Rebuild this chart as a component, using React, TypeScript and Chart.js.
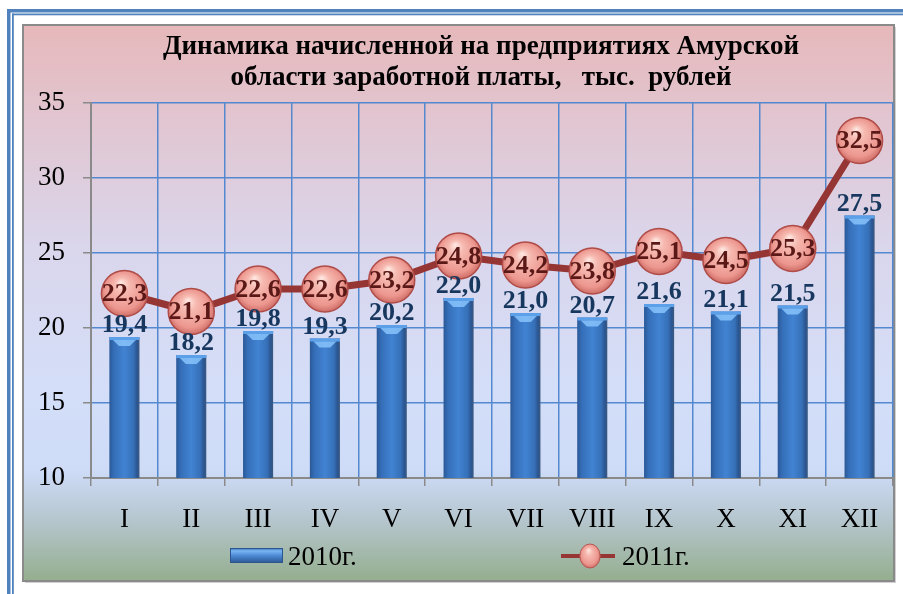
import React, { useEffect, useRef } from 'react';
import { Chart, registerables } from 'chart.js';

Chart.register(...registerables);

const months = ['I', 'II', 'III', 'IV', 'V', 'VI', 'VII', 'VIII', 'IX', 'X', 'XI', 'XII'];
const values2010 = [19.4, 18.2, 19.8, 19.3, 20.2, 22.0, 21.0, 20.7, 21.6, 21.1, 21.5, 27.5];
const values2011 = [22.3, 21.1, 22.6, 22.6, 23.2, 24.8, 24.2, 23.8, 25.1, 24.5, 25.3, 32.5];
const seriesNames = ['2010г.', '2011г.'];
const titleLines = ['Динамика начисленной на предприятиях Амурской', 'области заработной платы,   тыс.  рублей'];
const yMin = 10;
const yMax = 35;
const yStep = 5;

const SERIF = "'Liberation Serif', 'Times New Roman', serif";
const BAR_PCT = 0.45;
const PT_R = 23;

const fmt = (v: number) => v.toFixed(1).replace('.', ',');

function barGradient(ctx: CanvasRenderingContext2D, left: number, right: number) {
  const g = ctx.createLinearGradient(left, 0, right, 0);
  g.addColorStop(0, '#2a5896');
  g.addColorStop(0.15, '#356eb8');
  g.addColorStop(0.5, '#4183d2');
  g.addColorStop(0.8, '#3670b8');
  g.addColorStop(0.92, '#2b5590');
  g.addColorStop(1, '#3d5a80');
  return g;
}

function ballGradient(ctx: CanvasRenderingContext2D, x: number, y: number, r: number) {
  const g = ctx.createRadialGradient(x - r * 0.15, y - r * 0.5, 0, x, y, r * 1.1);
  g.addColorStop(0, '#fee9e3');
  g.addColorStop(0.3, '#f6b9b0');
  g.addColorStop(0.75, '#ec978f');
  g.addColorStop(1, '#c4605a');
  return g;
}

const framePlugin = {
  id: 'frame',
  beforeDraw(chart: any) {
    const { ctx, width, height } = chart;
    ctx.save();
    ctx.fillStyle = '#ffffff';
    ctx.fillRect(0, 0, width, height);
    ctx.fillStyle = '#4f81bd';
    ctx.fillRect(7, 9, width - 7, 3.5);
    ctx.fillRect(12, 13.5, width - 12, 1.8);
    ctx.fillRect(7, 9, 3.5, height - 9);
    ctx.fillRect(12, 13.5, 1.8, height - 13.5);
    ctx.fillStyle = 'rgba(0,0,0,0.18)';
    ctx.fillRect(25, 27, 871, 556);
    const g = ctx.createLinearGradient(0, 25, 0, 581);
    g.addColorStop(0, 'rgb(230,184,186)');
    g.addColorStop(0.15, 'rgb(226,196,206)');
    g.addColorStop(0.4, 'rgb(218,214,236)');
    g.addColorStop(0.65, 'rgb(212,222,248)');
    g.addColorStop(0.8, 'rgb(206,220,248)');
    g.addColorStop(0.89, 'rgb(182,198,206)');
    g.addColorStop(1, 'rgb(148,174,142)');
    ctx.fillStyle = g;
    ctx.fillRect(23, 25, 871, 556);
    ctx.strokeStyle = '#8a8a8a';
    ctx.lineWidth = 2;
    ctx.strokeRect(23, 25, 871, 556);
    ctx.restore();
  },
};

const decorPlugin = {
  id: 'decor',
  afterDatasetDraw(chart: any, args: any) {
    if (args.index !== 0) return;
    const { ctx } = chart;
    const meta = chart.getDatasetMeta(0);
    ctx.save();
    meta.data.forEach((bar: any) => {
      const w = bar.width;
      const l = bar.x - w / 2;
      ctx.fillStyle = '#5ca0ea';
      ctx.fillRect(l, bar.y, w, 3);
      ctx.fillStyle = 'rgba(140,200,255,0.8)';
      ctx.beginPath();
      ctx.moveTo(l + w * 0.12, bar.y + 3);
      ctx.lineTo(l + w * 0.88, bar.y + 3);
      ctx.lineTo(l + w * 0.68, bar.y + 9);
      ctx.lineTo(l + w * 0.32, bar.y + 9);
      ctx.closePath();
      ctx.fill();
    });
    ctx.restore();
  },
  afterDatasetsDraw(chart: any) {
    const { ctx } = chart;
    ctx.save();
    ctx.textAlign = 'center';
    ctx.font = `bold 26px ${SERIF}`;
    ctx.fillStyle = '#5a1816';
    ctx.textBaseline = 'middle';
    chart.getDatasetMeta(1).data.forEach((pt: any, i: number) => {
      ctx.fillText(fmt(values2011[i]), pt.x, pt.y + 1);
    });
    ctx.fillStyle = '#17375e';
    ctx.textBaseline = 'alphabetic';
    chart.getDatasetMeta(0).data.forEach((bar: any, i: number) => {
      ctx.fillText(fmt(values2010[i]), bar.x, bar.y - 5);
    });
    ctx.restore();
  },
  afterDraw(chart: any) {
    const { ctx } = chart;
    ctx.save();
    ctx.fillStyle = '#000';
    ctx.font = `bold 27px ${SERIF}`;
    ctx.textAlign = 'center';
    ctx.textBaseline = 'middle';
    ctx.fillText(titleLines[0], 481, 47);
    ctx.fillText(titleLines[1], 481, 78);
    ctx.font = `27px ${SERIF}`;
    ctx.textAlign = 'left';
    const lg = ctx.createLinearGradient(0, 548, 0, 563);
    lg.addColorStop(0, '#3c6fb2');
    lg.addColorStop(0.2, '#7ab6f2');
    lg.addColorStop(0.5, '#4d8bd6');
    lg.addColorStop(1, '#2a5590');
    ctx.fillStyle = lg;
    ctx.fillRect(230, 548, 53, 15);
    ctx.strokeStyle = '#2d5690';
    ctx.lineWidth = 1;
    ctx.strokeRect(230.5, 548.5, 52, 14);
    ctx.fillStyle = '#000';
    ctx.fillText(seriesNames[0], 288, 558);
    ctx.strokeStyle = '#963634';
    ctx.lineWidth = 4;
    ctx.beginPath();
    ctx.moveTo(561, 556);
    ctx.lineTo(615, 556);
    ctx.stroke();
    ctx.save();
    ctx.translate(590, 556);
    ctx.scale(0.85, 1);
    ctx.beginPath();
    ctx.arc(0, 0, 12, 0, Math.PI * 2);
    ctx.fillStyle = ballGradient(ctx, 0, 0, 12);
    ctx.fill();
    ctx.strokeStyle = '#b5524e';
    ctx.lineWidth = 1;
    ctx.stroke();
    ctx.restore();
    ctx.fillStyle = '#000';
    ctx.fillText(seriesNames[1], 622, 558);
    ctx.restore();
  },
};

export default function App() {
  const ref = useRef<HTMLCanvasElement>(null);
  useEffect(() => {
    const chart = new Chart(ref.current as HTMLCanvasElement, {
      type: 'bar',
      data: {
        labels: months,
        datasets: [
          {
            type: 'bar',
            label: seriesNames[0],
            data: values2010,
            order: 1,
            barPercentage: BAR_PCT,
            categoryPercentage: 1,
            borderWidth: 0,
            backgroundColor: (c: any) => {
              const xs = c.chart.scales.x;
              if (!xs || c.type !== 'data') return '#3a78c4';
              const cx = xs.getPixelForValue(c.dataIndex);
              const half = (xs.width / months.length) * BAR_PCT / 2;
              if (!isFinite(cx) || !isFinite(half) || half <= 0) return '#3a78c4';
              return barGradient(c.chart.ctx, cx - half, cx + half);
            },
          } as any,
          {
            type: 'line',
            label: seriesNames[1],
            data: values2011,
            order: 0,
            borderColor: '#963634',
            borderWidth: 7,
            tension: 0,
            pointRadius: PT_R,
            pointHoverRadius: PT_R,
            pointBorderWidth: 1.5,
            pointBorderColor: '#b04c48',
            pointBackgroundColor: (c: any) => {
              const xs = c.chart.scales.x;
              const ys = c.chart.scales.y;
              if (!xs || !ys || c.type !== 'data') return '#f0a8a0';
              const x = xs.getPixelForValue(c.dataIndex);
              const y = ys.getPixelForValue(c.raw);
              if (!isFinite(x) || !isFinite(y)) return '#f0a8a0';
              return ballGradient(c.chart.ctx, x, y, PT_R);
            },
          } as any,
        ],
      },
      options: {
        animation: false,
        responsive: false,
        devicePixelRatio: 1,
        events: [],
        layout: { autoPadding: false, padding: { left: 23, right: 10, top: 103, bottom: 13 } },
        plugins: {
          legend: { display: false },
          title: { display: false },
          tooltip: { enabled: false },
        },
        scales: {
          x: {
            grid: {
              offset: true,
              color: '#5589cf',
              lineWidth: 1.5,
              tickLength: 8,
              tickColor: '#8a8a8a',
            },
            border: { color: '#8a8a8a', width: 2 },
            ticks: {
              autoSkip: false,
              maxRotation: 0,
              padding: 18,
              color: '#000',
              font: { family: SERIF, size: 27 },
            },
            afterFit: (s: any) => {
              s.height = 103;
              s.paddingLeft = 0;
              s.paddingRight = 0;
            },
          },
          y: {
            min: yMin,
            max: yMax,
            grid: {
              color: '#5589cf',
              lineWidth: 1.5,
              tickLength: 8,
              tickColor: '#8a8a8a',
            },
            border: { color: '#8a8a8a', width: 2 },
            ticks: {
              stepSize: yStep,
              padding: 18,
              color: '#000',
              font: { family: SERIF, size: 27 },
            },
            afterFit: (s: any) => {
              s.width = 68;
              s.paddingTop = 0;
              s.paddingBottom = 0;
            },
          },
        },
      },
      plugins: [framePlugin, decorPlugin],
    });
    return () => chart.destroy();
  }, []);
  return (
    <div style={{ position: 'absolute', left: 0, top: 0, width: 903, height: 594 }}>
      <canvas ref={ref} width={903} height={594} style={{ display: 'block', width: 903, height: 594 }} />
    </div>
  );
}
